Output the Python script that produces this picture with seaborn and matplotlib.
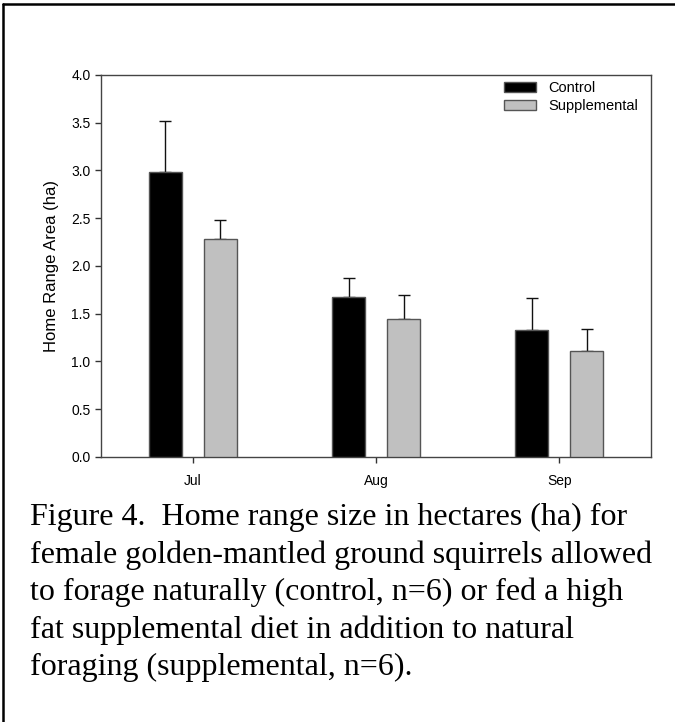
import matplotlib
matplotlib.use("Agg")
import matplotlib.pyplot as plt
from matplotlib.lines import Line2D
from matplotlib.patches import Patch
import seaborn as sns
import pandas as pd

months = ["Jul", "Aug", "Sep"]
groups = ["Control", "Supplemental"]
control_mean = [2.98, 1.68, 1.33]
control_se = [0.54, 0.19, 0.33]
supp_mean = [2.28, 1.45, 1.11]
supp_se = [0.20, 0.25, 0.23]
y_ticks = [0.0, 0.5, 1.0, 1.5, 2.0, 2.5, 3.0, 3.5, 4.0]
caption = ("Figure 4.  Home range size in hectares (ha) for\n"
           "female golden-mantled ground squirrels allowed\n"
           "to forage naturally (control, n=6) or fed a high\n"
           "fat supplemental diet in addition to natural\n"
           "foraging (supplemental, n=6).")

colors = {"Control": "#000000", "Supplemental": "#c0c0c0"}

df = pd.DataFrame({
    "Month": months * 2,
    "Group": ["Control"] * 3 + ["Supplemental"] * 3,
    "Area": control_mean + supp_mean,
    "SE": control_se + supp_se,
})

sns.set_theme(style="white")
plt.rcParams["font.family"] = ["Liberation Sans", "DejaVu Sans"]
plt.rcParams["text.color"] = "black"
plt.rcParams["axes.labelcolor"] = "black"
plt.rcParams["xtick.color"] = "black"
plt.rcParams["ytick.color"] = "black"

fig = plt.figure(figsize=(6.75, 7.22), dpi=100)
ax = fig.add_axes([101 / 675, 1 - 457 / 722, 550 / 675, 382 / 722])

sns.barplot(data=df, x="Month", y="Area", hue="Group", order=months,
            hue_order=groups, palette=colors, width=0.6, gap=0.4,
            errorbar=None, edgecolor="#555555", linewidth=1.0,
            legend=False, ax=ax, zorder=3)

# error bars (upper only) at bar centres
for p, (_, row) in zip(ax.patches, df.iterrows()):
    xc = p.get_x() + p.get_width() / 2
    ax.errorbar(xc, row["Area"], yerr=[[0], [row["SE"]]], fmt="none",
                ecolor="#111111", elinewidth=1.0, capsize=4, capthick=1.0,
                zorder=2)

ax.set_xlim(-0.5, 2.5)
ax.set_ylim(0, 4.0)
ax.set_yticks(y_ticks)
ax.set_yticklabels([f"{v:.1f}" for v in y_ticks])
ax.set_xlabel("")
ax.set_ylabel("Home Range Area (ha)", fontsize=12, labelpad=9)
ax.tick_params(axis="both", labelsize=10, direction="out", length=4.5,
               width=1.0, color="#333333", labelcolor="black")
ax.tick_params(axis="x", pad=8)
ax.tick_params(axis="y", pad=3)
ax.tick_params(left=True, bottom=True)
for s in ax.spines.values():
    s.set_visible(True)
    s.set_color("#444444")
    s.set_linewidth(1.0)

handles = [Patch(facecolor=colors[g], edgecolor="#555555", linewidth=1.0, label=g)
           for g in groups]
ax.legend(handles=handles, loc="upper left", bbox_to_anchor=(0.733, 0.985),
          frameon=False, fontsize=10.5, handlelength=2.2, handleheight=0.7,
          handletextpad=0.8, labelspacing=0.3, borderpad=0, borderaxespad=0)

fig.text(30 / 675, 1 - 503 / 722, caption, family=["Liberation Serif", "DejaVu Serif"],
         fontsize=23, va="top", ha="left", linespacing=1.36, color="black")

# frame lines (left and top)
fig.add_artist(Line2D([3 / 675, 3 / 675], [0, 1 - 4 / 722], transform=fig.transFigure,
                      color="black", linewidth=1.8))
fig.add_artist(Line2D([3 / 675, 1], [1 - 4 / 722, 1 - 4 / 722], transform=fig.transFigure,
                      color="black", linewidth=1.8))

fig.savefig("out.png", dpi=100)
